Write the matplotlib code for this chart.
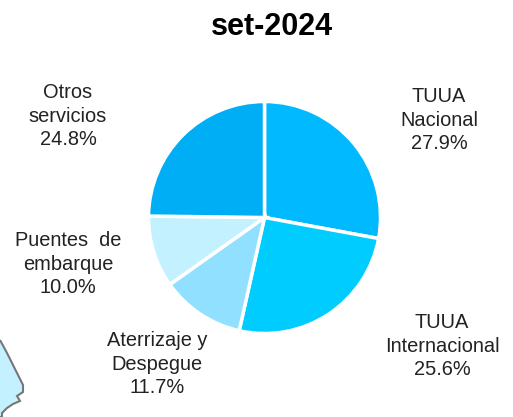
import matplotlib
matplotlib.use("Agg")
import matplotlib.pyplot as plt
from matplotlib.patches import Polygon

categories = ["TUUA\nNacional", "TUUA\nInternacional", "Aterrizaje y\nDespegue", "Puentes  de\nembarque", "Otros\nservicios"]
values = [27.9, 25.6, 11.7, 10.0, 24.8]
colors = ["#00B9FF", "#00CCFF", "#91E0FF", "#C4F1FF", "#00AEF5"]
title = "set-2024"
label_pos = [(439, 120), (442, 346), (157, 364), (68, 264), (68, 116)]
map_fragment = [(0, 340), (7, 353), (23, 385), (23, 392), (17, 396), (20, 401),
                (13, 404), (7, 408), (2, 413), (2, 417), (0, 417)]

W, H = 513, 417
plt.rcParams["font.family"] = ["Liberation Sans", "DejaVu Sans"]
fig = plt.figure(figsize=(W / 100, H / 100), dpi=100)
ax = fig.add_axes([0, 0, 1, 1])

ax.pie(values, colors=colors, startangle=90, counterclock=False,
       center=(264.5, H - 217.5), radius=116,
       wedgeprops=dict(edgecolor="white", linewidth=2.5), frame=True)
ax.set_xlim(0, W)
ax.set_ylim(0, H)
ax.set_aspect("equal")
ax.axis("off")

ax.add_patch(Polygon([(x, H - y) for x, y in map_fragment], closed=False,
                     facecolor="#C4F1FF", edgecolor="#777777", linewidth=1.5))

ax.text(272, H - 27, title, ha="center", va="center", fontsize=22, fontweight="bold", color="black")
for c, v, (x, y) in zip(categories, values, label_pos):
    ax.text(x, H - y, f"{c}\n{v:.1f}%", ha="center", va="center", fontsize=14.4,
            color="#222222", linespacing=1.27)

fig.savefig("out.png", dpi=100)
